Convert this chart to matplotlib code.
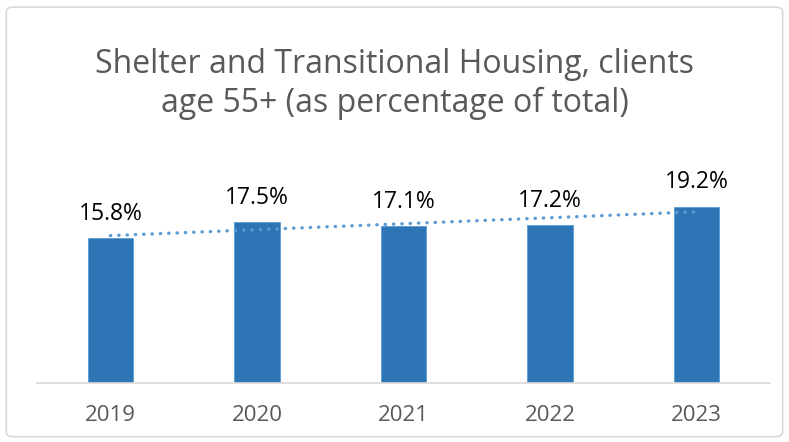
import numpy as np
import matplotlib
matplotlib.use('Agg')
from matplotlib import pyplot as plt
from matplotlib.patches import FancyBboxPatch

years = ['2019', '2020', '2021', '2022', '2023']
pct_55_plus = [15.8, 17.5, 17.1, 17.2, 19.2]
title = 'Shelter and Transitional Housing, clients\nage 55+ (as percentage of total)'

plt.rcParams['font.family'] = ['Open Sans', 'DejaVu Sans']

fig = plt.figure(figsize=(7.89, 4.42), dpi=100)
fig.patch.set_facecolor('white')

# light grey chart frame
frame = FancyBboxPatch((0.008, 0.012), 0.984, 0.972, boxstyle='round,pad=0,rounding_size=0.01',
                       transform=fig.transFigure, facecolor='none', edgecolor='#D9D9D9', lw=1.2)
fig.patches.append(frame)

ax = fig.add_axes([0.047, 0.1335, 0.929, 0.519])
x = np.arange(len(years))
ax.bar(x, pct_55_plus, width=0.31, color='#2E75B6', edgecolor='#5B9BD5', linewidth=0.6, zorder=2)

# linear trendline
k, b = np.polyfit(x, pct_55_plus, 1)
ax.plot(x, k * x + b, color='#5B9BD5', lw=2.4, linestyle=(0, (0.1, 2.4)),
        dash_capstyle='round', zorder=3)

for xi, v in zip(x, pct_55_plus):
    ax.annotate(f'{v:.1f}%', (xi, v), xytext=(0, 9), textcoords='offset points',
                ha='center', va='bottom', fontsize=16.5, color='#000000')

ax.set_xlim(-0.5, len(years) - 0.5)
ax.set_ylim(0, 25)
ax.set_xticks(x)
ax.set_xticklabels(years, fontsize=16, color='#595959')
ax.tick_params(axis='x', length=0, pad=16)
ax.set_yticks([])
for side in ['left', 'right', 'top']:
    ax.spines[side].set_visible(False)
ax.spines['bottom'].set_color('#D9D9D9')
ax.spines['bottom'].set_linewidth(1.2)

fig.text(0.5, 0.81, title, ha='center', va='center', fontsize=23, color='#595959',
         linespacing=1.2)

fig.savefig('out.png', dpi=100)
